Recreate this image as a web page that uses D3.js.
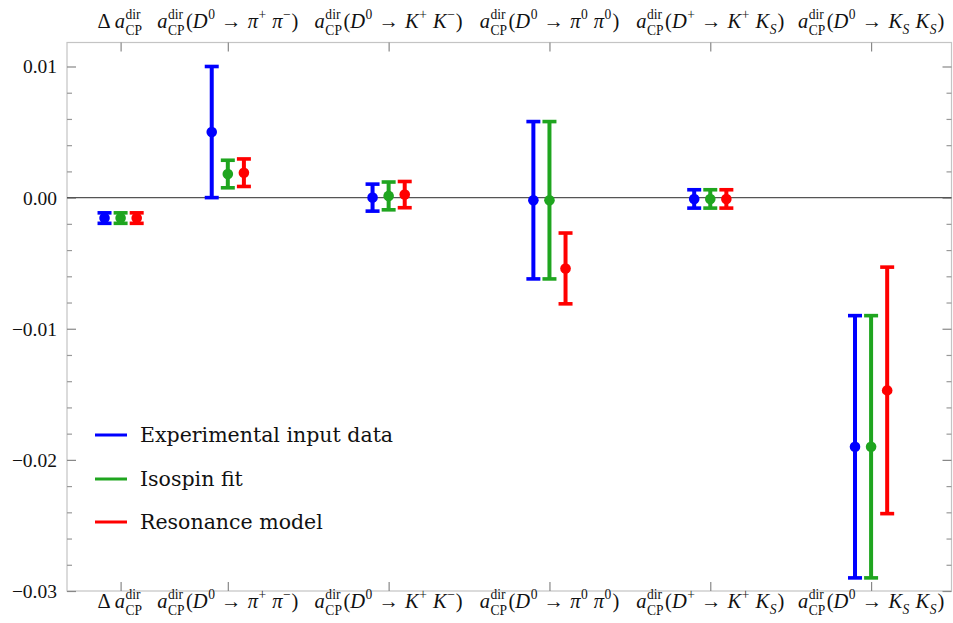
<!DOCTYPE html>
<html><head><meta charset="utf-8">
<script src="https://cdn.jsdelivr.net/npm/d3@7"></script>
<style>html,body{margin:0;padding:0;background:#fff;}</style>
</head><body>
<svg id="chart" width="953" height="623"></svg>
<script>
// ---------- data ----------
const categories = ["Delta aCP", "D0->pi+pi-", "D0->K+K-", "D0->pi0pi0", "D+->K+KS", "D0->KSKS"];
const categoryX = [1/3, 1, 2, 3, 4, 5];
const seriesNames = ["Experimental input data", "Isospin fit", "Resonance model"];
const expValues = [-0.00156, 0.0050, 0.0000, -0.0002, -0.0001, -0.0190];
const expErrors = [0.0004, 0.0050, 0.00103, 0.0060, 0.0007, 0.0100];
const isoValues = [-0.00156, 0.0018, 0.00013, -0.0002, -0.0001, -0.0190];
const isoErrors = [0.0004, 0.00105, 0.00106, 0.0060, 0.0007, 0.0100];
const resValues = [-0.00156, 0.0019, 0.00023, -0.0054, -0.0001, -0.0147];
const resErrors = [0.0004, 0.00105, 0.0010, 0.0027, 0.0007, 0.0094];
const yTickValues = [0.01, 0.00, -0.01, -0.02, -0.03];
const yTickLabels = ["0.01", "0.00", "\u22120.01", "\u22120.02", "\u22120.03"];
// label pieces: rm = roman, it = italic, sup/sub = small, ss = stacked sup+sub
const labelParts = [
  [["rm","\u0394 "],["it","a"],["ss","dir","CP"]],
  [["it","a"],["ss","dir","CP"],["rm","("],["it","D"],["sup","0"],["rm"," \u2192 "],["it","\u03c0"],["sup","+"],["rm"," "],["it","\u03c0"],["sup","\u2212"],["rm",")"]],
  [["it","a"],["ss","dir","CP"],["rm","("],["it","D"],["sup","0"],["rm"," \u2192 "],["it","K"],["sup","+"],["rm"," "],["it","K"],["sup","\u2212"],["rm",")"]],
  [["it","a"],["ss","dir","CP"],["rm","("],["it","D"],["sup","0"],["rm"," \u2192 "],["it","\u03c0"],["sup","0"],["rm"," "],["it","\u03c0"],["sup","0"],["rm",")"]],
  [["it","a"],["ss","dir","CP"],["rm","("],["it","D"],["sup","+"],["rm"," \u2192 "],["it","K"],["sup","+"],["rm"," "],["it","K"],["subi","S"],["rm",")"]],
  [["it","a"],["ss","dir","CP"],["rm","("],["it","D"],["sup","0"],["rm"," \u2192 "],["it","K"],["subi","S"],["rm"," "],["it","K"],["subi","S"],["rm",")"]]
];

// ---------- setup ----------
const svg = d3.select("#chart");
const L = 67, R = 951.5, T = 42.5, B = 591;
const x = d3.scaleLinear().domain([0, 5.5]).range([L, R]);
const y = d3.scaleLinear().domain([-0.03, 0.01183]).range([B, T]);
const serif = "'Liberation Serif','Times New Roman',serif";
const colors = ["#0000ff", "#1fa51f", "#ff0000"];
const offsets = [-0.1, 0, 0.1];

// frame
svg.append("rect").attr("x", L).attr("y", T).attr("width", R - L).attr("height", B - T)
  .attr("fill", "none").attr("stroke", "#c4c4c4").attr("stroke-width", 1.2);

// y ticks (major + minor), both sides, inward
const minor = d3.range(-0.03, 0.0119, 0.002).map(v => +v.toFixed(4)).filter(v => !yTickValues.some(t => Math.abs(t - v) < 1e-9));
const yAxisL = d3.axisLeft(y).tickValues(yTickValues).tickFormat((d, i) => yTickLabels[i]).tickSizeInner(-9).tickSizeOuter(0).tickPadding(10);
const gL = svg.append("g").attr("transform", `translate(${L},0)`).call(yAxisL);
gL.select(".domain").remove();
gL.selectAll(".tick line").attr("stroke", "#888").attr("stroke-width", 1.2);
gL.selectAll(".tick text").attr("font-family", serif).attr("font-size", 19.5).attr("fill", "#111").attr("dy", "0.33em");
const gLm = svg.append("g").attr("transform", `translate(${L},0)`).call(d3.axisLeft(y).tickValues(minor).tickFormat("").tickSizeInner(-5).tickSizeOuter(0));
gLm.select(".domain").remove();
gLm.selectAll(".tick line").attr("stroke", "#999").attr("stroke-width", 1.2);
const gR = svg.append("g").attr("transform", `translate(${R},0)`).call(d3.axisRight(y).tickValues(yTickValues).tickFormat("").tickSizeInner(-9).tickSizeOuter(0));
gR.select(".domain").remove();
gR.selectAll(".tick line").attr("stroke", "#888").attr("stroke-width", 1.2);
const gRm = svg.append("g").attr("transform", `translate(${R},0)`).call(d3.axisRight(y).tickValues(minor).tickFormat("").tickSizeInner(-5).tickSizeOuter(0));
gRm.select(".domain").remove();
gRm.selectAll(".tick line").attr("stroke", "#999").attr("stroke-width", 1.2);

// x ticks top & bottom, inward
const gB = svg.append("g").attr("transform", `translate(0,${B})`).call(d3.axisBottom(x).tickValues(categoryX).tickFormat("").tickSizeInner(-9).tickSizeOuter(0));
gB.select(".domain").remove();
gB.selectAll(".tick line").attr("stroke", "#888").attr("stroke-width", 1.2);
const gT = svg.append("g").attr("transform", `translate(0,${T})`).call(d3.axisTop(x).tickValues(categoryX).tickFormat("").tickSizeInner(-9).tickSizeOuter(0));
gT.select(".domain").remove();
gT.selectAll(".tick line").attr("stroke", "#888").attr("stroke-width", 1.2);

// zero line
svg.append("line").attr("x1", L).attr("x2", R).attr("y1", y(0)).attr("y2", y(0))
  .attr("stroke", "#555").attr("stroke-width", 1.3);

// category labels
function drawLabel(g, parts, fs) {
  let cx = 0;
  const small = fs * 0.66;
  function add(txt, size, dy, italic) {
    const t = g.append("text").attr("x", cx).attr("y", dy).attr("font-family", serif)
      .attr("font-size", size).attr("font-style", italic ? "italic" : "normal").attr("fill", "#111")
      .style("white-space", "pre").text(txt);
    return t.node().getComputedTextLength();
  }
  parts.forEach(p => {
    const k = p[0];
    if (k === "rm") cx += add(p[1], fs, 0, false) + (p[1].includes("\u2192") ? 1 : 0);
    else if (k === "it") cx += add(p[1], fs, 0, true) + 0.5;
    else if (k === "sup") cx += add(p[1], small, -fs * 0.42, false) + 1;
    else if (k === "subi") cx += add(p[1], small, fs * 0.3, true) + 1;
    else if (k === "ss") {
      const w1 = add(p[1], small, -fs * 0.42, false);
      const w2 = add(p[2], small, fs * 0.33, false);
      cx += Math.max(w1, w2) + 1.5;
    }
  });
  return cx;
}
[["top", 28], ["bottom", 608]].forEach(([pos, by]) => {
  categories.forEach((c, i) => {
    const g = svg.append("g").attr("class", "lab-" + pos);
    const w = drawLabel(g, labelParts[i], 20.5);
    g.attr("transform", `translate(${x(categoryX[i]) - w / 2},${by})`);
  });
});

// error bars
const series = [
  {name: seriesNames[0], values: expValues, errors: expErrors},
  {name: seriesNames[1], values: isoValues, errors: isoErrors},
  {name: seriesNames[2], values: resValues, errors: resErrors}
];
const capW = 7;
series.forEach((s, si) => {
  const g = svg.append("g").attr("fill", colors[si]).attr("stroke", colors[si]);
  s.values.forEach((v, i) => {
    const cx = x(categoryX[i] + offsets[si]);
    const lo = y(v - s.errors[i]), hi = y(v + s.errors[i]);
    g.append("line").attr("x1", cx).attr("x2", cx).attr("y1", hi).attr("y2", lo).attr("stroke-width", 4);
    g.append("line").attr("x1", cx - capW).attr("x2", cx + capW).attr("y1", hi).attr("y2", hi).attr("stroke-width", 3.6);
    g.append("line").attr("x1", cx - capW).attr("x2", cx + capW).attr("y1", lo).attr("y2", lo).attr("stroke-width", 3.6);
    g.append("circle").attr("cx", cx).attr("cy", y(v)).attr("r", 5.3).attr("stroke", "none");
  });
});

// legend
const legY = [435, 479, 522];
seriesNames.forEach((n, i) => {
  svg.append("line").attr("x1", 95).attr("x2", 127).attr("y1", legY[i]).attr("y2", legY[i])
    .attr("stroke", colors[i]).attr("stroke-width", 3);
  svg.append("text").attr("x", 140).attr("y", legY[i]).attr("dy", "0.35em")
    .attr("font-family", "'DejaVu Serif',serif").attr("font-size", 20.5).attr("fill", "#111").text(n);
});
</script>
</body></html>
